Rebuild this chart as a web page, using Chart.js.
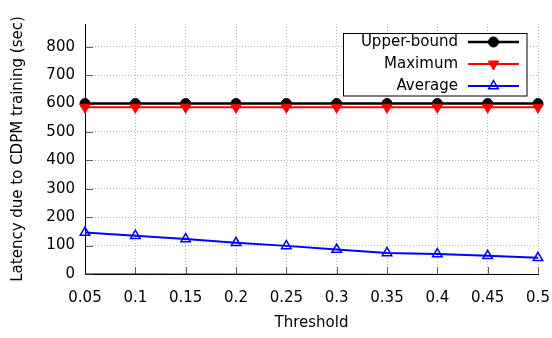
<!DOCTYPE html>
<html>
<head>
<meta charset="utf-8">
<script src="https://cdn.jsdelivr.net/npm/chart.js@4/dist/chart.umd.min.js"></script>
<style>
  html, body { margin: 0; padding: 0; background: #fff; }
  canvas { display: block; }
</style>
</head>
<body>
<canvas id="c" width="552" height="338"></canvas>
<script>
// Threshold values along the x axis
const thresholds = ['0.05', '0.1', '0.15', '0.2', '0.25', '0.3', '0.35', '0.4', '0.45', '0.5'];

// Latency (sec) for each threshold
const upperBound = [600, 600, 600, 600, 600, 600, 600, 600, 600, 600];
const maximum    = [587, 587, 587, 587, 587, 587, 587, 587, 587, 587];
const average    = [146, 135, 123, 110, 99, 86, 74, 70, 64, 57];

// Y axis tick values
const yTicks = [0, 100, 200, 300, 400, 500, 600, 700, 800];

const FONT = 'DejaVu Sans';

// Gnuplot-style inward tick marks on the left and bottom axes
const inwardTicks = {
  id: 'inwardTicks',
  beforeDatasetsDraw(chart) {
    const { ctx, chartArea: a, scales: { x, y } } = chart;
    ctx.save();
    ctx.strokeStyle = '#606060';
    ctx.lineWidth = 1;
    ctx.beginPath();
    yTicks.forEach(v => {
      const py = Math.round(y.getPixelForValue(v)) + 0.5;
      ctx.moveTo(a.left, py);
      ctx.lineTo(a.left + 8, py);
    });
    thresholds.forEach((_, i) => {
      const px = Math.round(x.getPixelForValue(i)) + 0.5;
      ctx.moveTo(px, a.bottom);
      ctx.lineTo(px, a.bottom - 7);
    });
    ctx.stroke();
    ctx.restore();
  }
};

// Boxed key in the upper right: label text on the left, line sample on the right
const boxedKey = {
  id: 'boxedKey',
  afterDraw(chart) {
    const { ctx } = chart;
    const bx = 343.5, by = 33.5, bw = 183.5, bh = 62.5;
    ctx.save();
    ctx.fillStyle = '#fff';
    ctx.fillRect(bx, by, bw, bh);
    ctx.strokeStyle = '#000';
    ctx.lineWidth = 1;
    ctx.strokeRect(bx, by, bw, bh);
    ctx.font = '15px "' + FONT + '"';
    ctx.textAlign = 'right';
    ctx.textBaseline = 'middle';
    chart.data.datasets.forEach((ds, i) => {
      const ry = 42 + i * 22;
      ctx.fillStyle = '#000';
      ctx.fillText(ds.label, 458, ry);
      ctx.strokeStyle = ds.borderColor;
      ctx.lineWidth = ds.borderWidth;
      ctx.beginPath();
      ctx.moveTo(468, ry);
      ctx.lineTo(519, ry);
      ctx.stroke();
      ctx.fillStyle = ds.pointBackgroundColor;
      ctx.strokeStyle = ds.pointBorderColor;
      ctx.lineWidth = ds.pointBorderWidth;
      Chart.helpers.drawPoint(ctx, {
        pointStyle: ds.pointStyle,
        radius: ds.pointRadius,
        rotation: ds.pointRotation || 0,
        borderWidth: ds.pointBorderWidth
      }, 493.5, ry);
    });
    ctx.restore();
  }
};

new Chart(document.getElementById('c'), {
  type: 'line',
  data: {
    labels: thresholds,
    datasets: [
      {
        label: 'Upper-bound',
        data: upperBound,
        borderColor: '#000',
        borderWidth: 2.5,
        pointStyle: 'circle',
        pointRadius: 5,
        pointBackgroundColor: '#000',
        pointBorderColor: '#000',
        pointBorderWidth: 1,
        order: 2
      },
      {
        label: 'Maximum',
        data: maximum,
        borderColor: '#ff0000',
        borderWidth: 2,
        pointStyle: 'triangle',
        pointRotation: 180,
        pointRadius: 6,
        pointBackgroundColor: '#ff0000',
        pointBorderColor: '#ff0000',
        pointBorderWidth: 1,
        order: 1
      },
      {
        label: 'Average',
        data: average,
        borderColor: '#0000ff',
        borderWidth: 2,
        pointStyle: 'triangle',
        pointRadius: 5.5,
        pointBackgroundColor: 'rgba(0,0,0,0)',
        pointBorderColor: '#0000ff',
        pointBorderWidth: 1.5,
        order: 0
      }
    ]
  },
  options: {
    responsive: false,
    animation: false,
    devicePixelRatio: 1,
    layout: { padding: { left: 0, right: 14, top: 24, bottom: 0 } },
    plugins: {
      legend: { display: false },
      tooltip: { enabled: false }
    },
    elements: { line: { tension: 0 } },
    scales: {
      x: {
        type: 'category',
        offset: false,
        grid: {
          color: '#b4b4b4',
          lineWidth: 1,
          drawTicks: false
        },
        border: { display: true, color: '#000', width: 1, dash: [1, 2] },
        ticks: {
          padding: 15,
          color: '#000',
          maxRotation: 0,
          autoSkip: false,
          font: { family: FONT, size: 15 }
        },
        title: {
          display: true,
          text: 'Threshold',
          color: '#000',
          font: { family: FONT, size: 15 },
          padding: { top: 0, bottom: 6 }
        },
        afterFit(scale) {
          scale.height = 64;
          scale.paddingLeft = 0;
          scale.paddingRight = 0;
        }
      },
      y: {
        min: 0,
        max: 880,
        grid: {
          color: '#b4b4b4',
          lineWidth: 1,
          drawTicks: false
        },
        border: { display: true, color: '#000', width: 1, dash: [1, 2] },
        ticks: {
          stepSize: 100,
          padding: 10,
          color: '#000',
          font: { family: FONT, size: 15 }
        },
        afterBuildTicks(scale) {
          scale.ticks = yTicks.map(v => ({ value: v }));
        },
        title: {
          display: true,
          text: 'Latency due to CDPM training (sec)',
          color: '#000',
          font: { family: FONT, size: 15 },
          padding: { top: 9, bottom: 0 }
        },
        afterFit(scale) {
          scale.width = 85;
          scale.paddingTop = 0;
          scale.paddingBottom = 0;
        }
      }
    }
  },
  plugins: [inwardTicks, boxedKey, {
    // solid axis lines on the left and bottom, drawn over the dotted grid
    id: 'axisLines',
    beforeDatasetsDraw(chart) {
      const { ctx, chartArea: a } = chart;
      ctx.save();
      ctx.strokeStyle = '#000';
      ctx.lineWidth = 1;
      ctx.beginPath();
      ctx.moveTo(Math.round(a.left) + 0.5, a.top);
      ctx.lineTo(Math.round(a.left) + 0.5, a.bottom);
      ctx.lineTo(a.right, Math.round(a.bottom) + 0.5);
      ctx.stroke();
      ctx.restore();
    }
  }]
});
</script>
</body>
</html>
